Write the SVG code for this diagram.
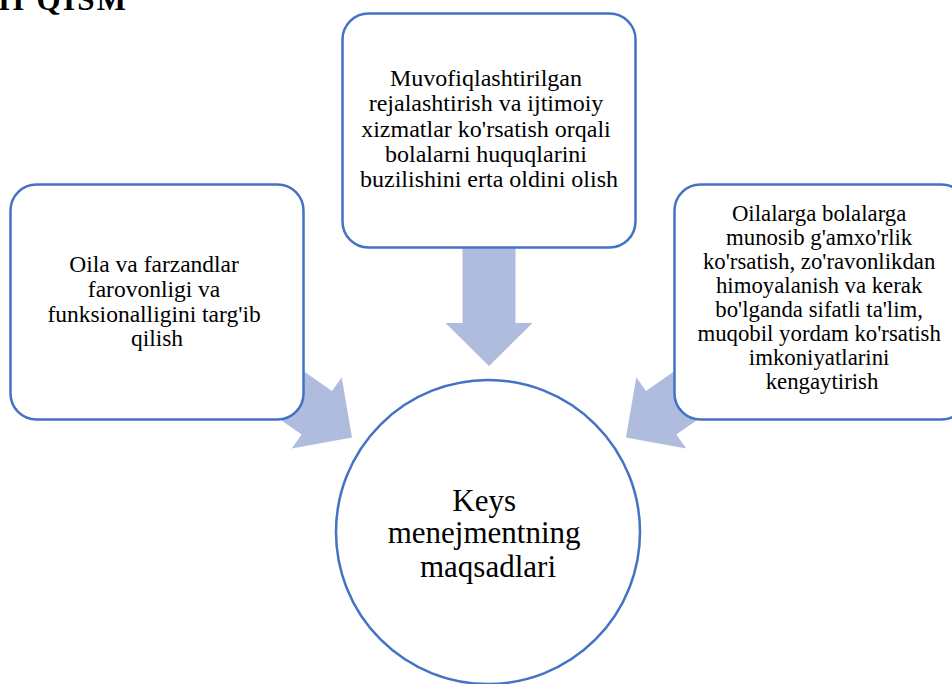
<svg xmlns="http://www.w3.org/2000/svg" width="952" height="684" viewBox="0 0 952 684">
  <style>
    .box { fill: #FFFFFF; stroke: #4472C4; stroke-width: 2.5; }
    .arrow { fill: #AFBCDE; stroke: none; }
    .t { font-family: "Liberation Serif", "Times New Roman", serif; fill: #000000; text-anchor: middle; }
  </style>
  <rect width="952" height="684" fill="#FFFFFF"/>
  <text font-family="'Liberation Serif', 'Times New Roman', serif" font-weight="bold" font-size="31" fill="#000000" x="-2" y="10" textLength="128" lengthAdjust="spacing">II QISM</text>

  <g id="connectors">
    <polygon class="arrow" points="462.5,246 515.5,246 515.5,323 532.5,323 489,366 445.5,323 462.5,323"/>
    <polygon class="arrow" points="266.5,345.2 332,391.1 341.7,377.2 352,437.5 291.8,448.4 301.6,434.5 236.1,388.6"/>
    <polygon class="arrow" points="711.5,345.2 646,391.1 636.3,377.2 626,437.5 686.2,448.4 676.4,434.5 741.9,388.6"/>
  </g>

  <g id="node-top">
    <rect class="box" x="342.5" y="13.5" width="293" height="234" rx="26" ry="26"/>
    <text class="t" font-size="24">
      <tspan x="489" y="86">Muvofiqlashtirilgan</tspan>
      <tspan x="489" y="111.3">rejalashtirish va ijtimoiy</tspan>
      <tspan x="489" y="136.6">xizmatlar ko'rsatish orqali</tspan>
      <tspan x="489" y="161.9">bolalarni huquqlarini</tspan>
      <tspan x="489" y="187.2">buzilishini erta oldini olish</tspan>
    </text>
  </g>

  <g id="node-left">
    <rect class="box" x="10.5" y="184.5" width="293" height="235" rx="26" ry="26"/>
    <text class="t" font-size="23.5">
      <tspan x="157" y="272">Oila va farzandlar</tspan>
      <tspan x="157" y="296.8">farovonligi va</tspan>
      <tspan x="157" y="321.6">funksionalligini targ'ib</tspan>
      <tspan x="157" y="346.4">qilish</tspan>
    </text>
  </g>

  <g id="node-right">
    <rect class="box" x="674.5" y="184.5" width="293" height="235" rx="26" ry="26"/>
    <text class="t" font-size="22.8">
      <tspan x="822" y="221">Oilalarga bolalarga</tspan>
      <tspan x="822" y="245">munosib g'amxo'rlik</tspan>
      <tspan x="822" y="269.1">ko'rsatish, zo'ravonlikdan</tspan>
      <tspan x="822" y="293.1">himoyalanish va kerak</tspan>
      <tspan x="822" y="317.2">bo'lganda sifatli ta'lim,</tspan>
      <tspan x="822" y="341.2">muqobil yordam ko'rsatish</tspan>
      <tspan x="822" y="365.3">imkoniyatlarini</tspan>
      <tspan x="822" y="389.3">kengaytirish</tspan>
    </text>
  </g>

  <g id="node-center">
    <circle class="box" cx="488" cy="532" r="152"/>
    <text class="t" font-size="31">
      <tspan x="488" y="510.5">Keys</tspan>
      <tspan x="488" y="542.5">menejmentning</tspan>
      <tspan x="488" y="576.5">maqsadlari</tspan>
    </text>
  </g>
</svg>
